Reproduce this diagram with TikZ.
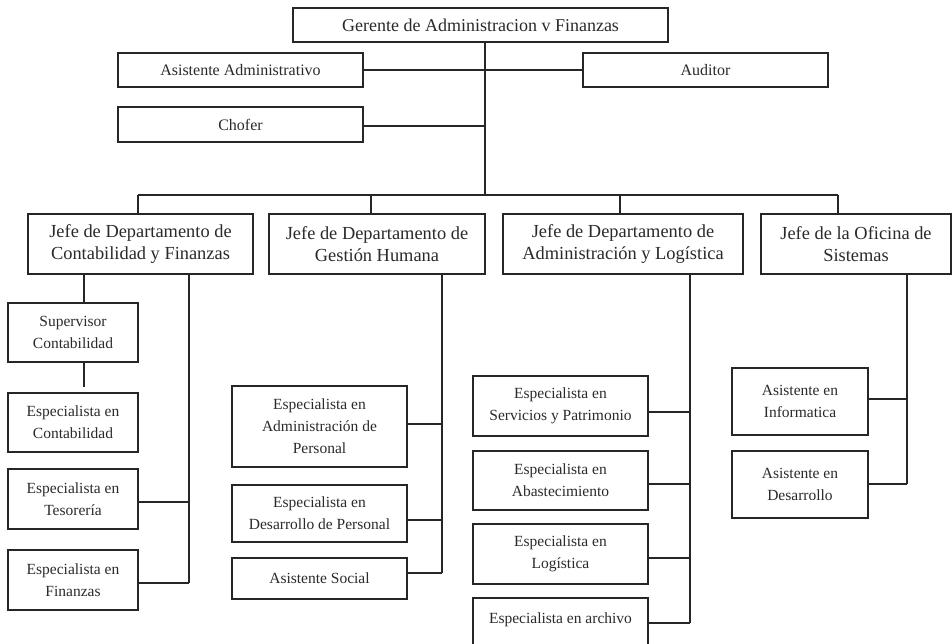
\documentclass[tikz,border=0pt]{standalone}
\usepackage{fontspec}
\setmainfont{Liberation Serif}
\definecolor{linec}{HTML}{262626}
\definecolor{textc}{HTML}{2A2A2A}
\tikzset{
  orgbox/.style={draw=linec, line width=1.7pt, fill=white, text=textc, align=center, inner sep=0pt, font=\fontsize{15.5}{22}\selectfont},
  bigbox/.style={orgbox, font=\fontsize{18.4}{22}\selectfont},
  link/.style={draw=linec, line width=1.8pt},
}
\begin{document}
\begin{tikzpicture}[x=1pt,y=-1pt]
\useasboundingbox (0,0) rectangle (952,643);
\clip (0,0) rectangle (952,643);
\fill[white] (0,0) rectangle (952,643);

% top levels
\node[orgbox, font=\fontsize{18}{22}\selectfont, minimum width=375, minimum height=34] (ger) at (480.5,25) {Gerente de Administracion v Finanzas};
\node[orgbox, font=\fontsize{16}{22}\selectfont, minimum width=245, minimum height=34] (asis) at (240.5,70) {Asistente Administrativo};
\node[orgbox, font=\fontsize{16}{22}\selectfont, minimum width=245, minimum height=34] (aud) at (705.5,70) {Auditor};
\node[orgbox, font=\fontsize{16}{22}\selectfont, minimum width=245, minimum height=35] (chof) at (240.5,124.5) {Chofer};

% departments
\node[bigbox, minimum width=225, minimum height=60] (c1) at (140.5,244) {Jefe de Departamento de\\Contabilidad y Finanzas};
\node[bigbox, minimum width=216, minimum height=60] (c2) at (377,244) {Jefe de Departamento de\\Gestión Humana};
\node[bigbox, minimum width=240, minimum height=60] (c3) at (623,244) {Jefe de Departamento de\\Administración y Logística};
\node[bigbox, minimum width=190, minimum height=60] (c4) at (856,244) {Jefe de la Oficina de\\Sistemas};

% Contabilidad
\node[orgbox, minimum width=130, minimum height=59] (sup) at (73,332.5) {Supervisor\\Contabilidad};
\node[orgbox, minimum width=130, minimum height=59] (econ) at (73,422.5) {Especialista en\\Contabilidad};
\node[orgbox, minimum width=130, minimum height=60] (etes) at (73,499) {Especialista en\\Tesorería};
\node[orgbox, minimum width=130, minimum height=60] (efin) at (73,580) {Especialista en\\Finanzas};

% Gestion Humana
\node[orgbox, minimum width=175, minimum height=81] (eap) at (319.5,426.5) {Especialista en\\Administración de\\Personal};
\node[orgbox, minimum width=175, minimum height=57] (edp) at (319.5,513.5) {Especialista en\\Desarrollo de Personal};
\node[orgbox, minimum width=175, minimum height=41] (asoc) at (319.5,578.5) {Asistente Social};

% Administracion y Logistica
\node[orgbox, minimum width=175, minimum height=60] (esp) at (560.5,406) {Especialista en\\Servicios y Patrimonio};
\node[orgbox, minimum width=175, minimum height=59] (eab) at (560.5,480.5) {Especialista en\\Abastecimiento};
\node[orgbox, minimum width=175, minimum height=60] (elo) at (560.5,554) {Especialista en\\Logística};
\node[orgbox, minimum width=175, minimum height=62] (earc) at (560.5,629) {Especialista en archivo\\\mbox{}};

% Sistemas
\node[orgbox, minimum width=136, minimum height=67] (ainf) at (800,401.5) {Asistente en\\Informatica};
\node[orgbox, minimum width=136, minimum height=67] (ades) at (800,484.5) {Asistente en\\Desarrollo};

% coordinates
\coordinate (tr) at (485,195);
\coordinate (b1) at (138,195);
\coordinate (b2) at (371,195);
\coordinate (b3) at (620,195);
\coordinate (b4) at (838,195);
\coordinate (s1) at (84,0);
\coordinate (gap) at (84,387);
\coordinate (v1) at (189,0);
\coordinate (v2) at (442,0);
\coordinate (v3) at (690,0);
\coordinate (v4) at (907,0);
\coordinate (ych) at (0,126);
\coordinate (yt) at (0,502);
\coordinate (yf) at (0,583);
\coordinate (yeap) at (0,424);
\coordinate (yedp) at (0,520);
\coordinate (yas) at (0,573);
\coordinate (yesp) at (0,412);
\coordinate (yeab) at (0,484);
\coordinate (yelo) at (0,558);
\coordinate (ya) at (0,623);
\coordinate (yai) at (0,399);
\coordinate (yad) at (0,484);

% connectors top
\draw[link] (ger.south -| tr) -- (tr);
\draw[link] (asis.east) -- (aud.west);
\draw[link] (chof.east |- ych) -- (tr |- ych);
\draw[link] (b1) -- (b4);
\draw[link] (b1) -- (b1 |- c1.north);
\draw[link] (b2) -- (b2 |- c2.north);
\draw[link] (b3) -- (b3 |- c3.north);
\draw[link] (b4) -- (b4 |- c4.north);

% Contabilidad connectors
\draw[link] (c1.south -| s1) -- (sup.north -| s1);
\draw[link] (sup.south -| gap) -- (gap);
\draw[link] (c1.south -| v1) -- (v1 |- yf);
\draw[link] (etes.east |- yt) -- (v1 |- yt);
\draw[link] (efin.east |- yf) -- (v1 |- yf);

% Gestion connectors
\draw[link] (c2.south -| v2) -- (v2 |- yas);
\draw[link] (eap.east |- yeap) -- (v2 |- yeap);
\draw[link] (edp.east |- yedp) -- (v2 |- yedp);
\draw[link] (asoc.east |- yas) -- (v2 |- yas);

% Admin connectors
\draw[link] (c3.south -| v3) -- (v3 |- ya);
\draw[link] (esp.east |- yesp) -- (v3 |- yesp);
\draw[link] (eab.east |- yeab) -- (v3 |- yeab);
\draw[link] (elo.east |- yelo) -- (v3 |- yelo);
\draw[link] (earc.east |- ya) -- (v3 |- ya);

% Sistemas connectors
\draw[link] (c4.south -| v4) -- (v4 |- yad);
\draw[link] (ainf.east |- yai) -- (v4 |- yai);
\draw[link] (ades.east |- yad) -- (v4 |- yad);
\end{tikzpicture}
\end{document}
